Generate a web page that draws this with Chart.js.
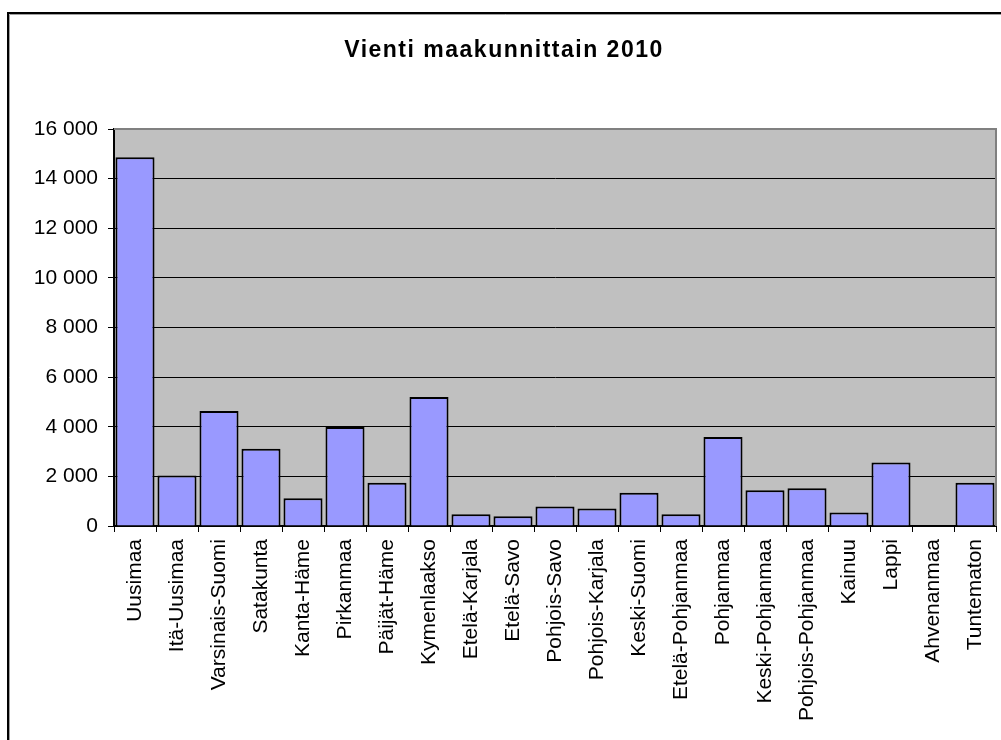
<!DOCTYPE html>
<html>
<head>
<meta charset="utf-8">
<script src="https://cdn.jsdelivr.net/npm/chart.js@4.4.1/dist/chart.umd.min.js"></script>
<style>
  html, body { margin: 0; padding: 0; background: #fff; }
  #wrap { position: relative; width: 1001px; height: 740px; }
</style>
</head>
<body>
<div id="wrap"><canvas id="chart" width="1001" height="740"></canvas></div>
<script>
const chartTitle = 'Vienti maakunnittain 2010';
const regions = [
  'Uusimaa', 'Itä-Uusimaa', 'Varsinais-Suomi', 'Satakunta', 'Kanta-Häme',
  'Pirkanmaa', 'Päijät-Häme', 'Kymenlaakso', 'Etelä-Karjala', 'Etelä-Savo',
  'Pohjois-Savo', 'Pohjois-Karjala', 'Keski-Suomi', 'Etelä-Pohjanmaa', 'Pohjanmaa',
  'Keski-Pohjanmaa', 'Pohjois-Pohjanmaa', 'Kainuu', 'Lappi', 'Ahvenanmaa', 'Tuntematon'
];
const exports2010 = [
  14860, 2040, 4630, 3110, 1120,
  3990, 1740, 5200, 470, 390,
  790, 710, 1340, 470, 3590,
  1440, 1520, 540, 2560, 0, 1740
];
const yMax = 16000;
const yStep = 2000;

const FONT = 'Liberation Sans, Arial, sans-serif';

const frameAndPlot = {
  id: 'frameAndPlot',
  beforeDraw(chart) {
    const { ctx, chartArea: a } = chart;
    ctx.save();
    // outer frame, runs off the right and bottom edges
    ctx.strokeStyle = '#000';
    ctx.lineWidth = 2;
    ctx.beginPath();
    ctx.moveTo(8, 740);
    ctx.lineTo(8, 13);
    ctx.lineTo(1001, 13);
    ctx.stroke();
    ctx.strokeStyle = '#a0a0a0';
    ctx.lineWidth = 1;
    ctx.beginPath();
    ctx.moveTo(9.5, 740);
    ctx.lineTo(9.5, 14.5);
    ctx.lineTo(1001, 14.5);
    ctx.stroke();
    // plot background
    ctx.fillStyle = '#c0c0c0';
    ctx.fillRect(a.left, a.top, a.right - a.left, a.bottom - a.top);
    // title (letter-spaced, so drawn here)
    ctx.fillStyle = '#000';
    ctx.font = 'bold 23px ' + FONT;
    ctx.letterSpacing = '1.5px';
    ctx.textAlign = 'center';
    ctx.textBaseline = 'middle';
    ctx.fillText(chartTitle, 504, 51);
    ctx.restore();
  },
  afterDatasetsDraw(chart) {
    const { ctx, chartArea: a } = chart;
    ctx.save();
    ctx.strokeStyle = '#808080';
    ctx.lineWidth = 2;
    ctx.beginPath();
    ctx.moveTo(a.left, a.top);
    ctx.lineTo(a.right, a.top);
    ctx.lineTo(a.right, a.bottom);
    ctx.stroke();
    ctx.restore();
  }
};

const fmt = v => String(v).replace(/\B(?=(\d{3})+(?!\d))/g, ' ');

new Chart(document.getElementById('chart'), {
  type: 'bar',
  data: {
    labels: regions,
    datasets: [{
      data: exports2010,
      backgroundColor: '#9999ff',
      borderColor: '#000',
      borderWidth: 2,
      barPercentage: 0.93,
      categoryPercentage: 1
    }]
  },
  options: {
    responsive: false,
    animation: false,
    layout: { padding: { left: 10, right: 5, top: 129, bottom: 0 } },
    plugins: {
      legend: { display: false },
      tooltip: { enabled: false },
      title: { display: false }
    },
    scales: {
      x: {
        afterFit(scale) {
          scale.height = 214;
          scale.paddingLeft = 0;
          scale.paddingRight = 0;
        },
        grid: { drawOnChartArea: false, offset: true, color: '#000', tickLength: 6, lineWidth: 1 },
        border: { color: '#000', width: 2 },
        ticks: {
          color: '#000',
          minRotation: 90,
          maxRotation: 90,
          autoSkip: false,
          padding: 7,
          font: { family: FONT, size: 21 }
        }
      },
      y: {
        min: 0,
        max: yMax,
        afterFit(scale) {
          scale.width = 104;
          scale.paddingTop = 0;
          scale.paddingBottom = 0;
        },
        grid: {
          color: c => (c.tick && c.tick.value === yMax) ? 'rgba(0,0,0,0)' : '#000',
          tickColor: '#000',
          tickLength: 6,
          lineWidth: 1
        },
        border: { color: '#000', width: 2 },
        ticks: {
          stepSize: yStep,
          color: '#000',
          padding: 10,
          callback: v => fmt(v),
          font: { family: FONT, size: 21 }
        }
      }
    }
  },
  plugins: [frameAndPlot]
});
</script>
</body>
</html>
